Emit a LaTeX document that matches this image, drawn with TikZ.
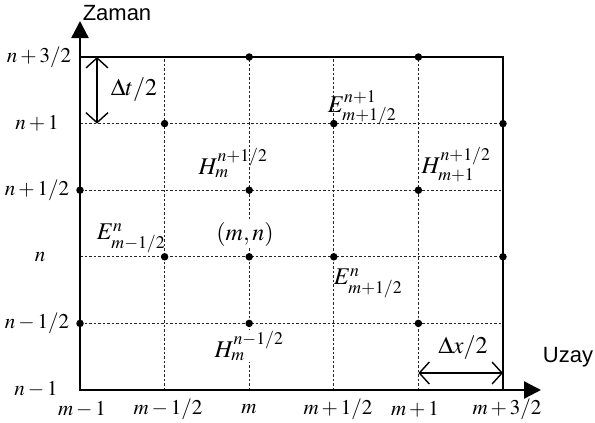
\documentclass[tikz,border=0pt]{standalone}
\usepackage{mathptmx}
\usepackage[no-math]{fontspec}
\newfontfamily\arialfont{Liberation Sans}
\usetikzlibrary{arrows.meta}
\begin{document}
\begin{tikzpicture}[x=1pt,y=-1pt,
  gridline/.style={dash pattern=on 2.5pt off 2pt, line width=0.8pt, black!85},
  axisline/.style={line width=2.4pt, line cap=rect},
  dot/.style={circle, fill=black, inner sep=0pt, minimum size=7.5pt},
  lab/.style={font=\fontsize{24}{27}\selectfont, inner sep=1pt},
  ticklab/.style={font=\fontsize{21}{24}\selectfont, inner sep=0pt},
  axislab/.style={font=\fontsize{22}{24}\selectfont\arialfont, inner sep=0pt},
  dimarrow/.style={line width=1.4pt, {Straight Barb[length=10pt,width=22pt]}-{Straight Barb[length=10pt,width=22pt]}}
]
\useasboundingbox (0,0) rectangle (595,423);
\foreach \i/\x in {0/80,1/164.6,2/249.2,3/333.8,4/418.4,5/503}
  \foreach \j/\y in {0/390,1/323.4,2/256.8,3/190.2,4/123.6,5/57}
    \coordinate (g\i\j) at (\x,\y);
% grid
\foreach \j in {1,...,4} \draw[gridline] (g0\j) -- (g5\j);
\foreach \i in {1,...,4} \draw[gridline] (g\i0) -- (g\i5);
\draw[line width=1.1pt] (g05) -- (g55) -- (g50);
% axes
\coordinate (ytip) at (80,21);
\coordinate (xtip) at (541,390);
\draw[axisline, -{Triangle[length=17pt,width=17pt]}] (g00) -- (ytip);
\draw[axisline, -{Triangle[length=17pt,width=17pt]}] (g00) -- (xtip);
\node[axislab] (zaman) at (117,13) {Zaman};
\node[axislab] (uzay) at (568,357) {Uzay};
% labels with white backgrounds
\node[lab, fill=white] (mn) at (245,234) {$(m,n)$};
\node[lab, fill=white] (hmlow) at (249,346) {$H^{n-1/2}_{m}$};
\node[lab] (e1) at (362,108) {$E^{n+1}_{m+1/2}$};
\node[lab] (h1) at (233,163) {$H^{n+1/2}_{m}$};
\node[lab] (h2) at (456,165) {$H^{n+1/2}_{m+1}$};
\node[lab] (e2) at (131,238) {$E^{n}_{m-1/2}$};
\node[lab] (e3) at (368,283) {$E^{n}_{m+1/2}$};
% dots
\foreach \p in {25,45,14,34,54,03,23,43,12,22,32,52,01,21,41}
  \node[dot] (d\p) at (g\p) {};
% dimension arrows
\coordinate (dta) at (97,57);
\coordinate (dtb) at (97,123.6);
\draw[dimarrow] (dta) -- (dtb);
\node[lab] (dt) at (134,90) {$\Delta t/2$};
\coordinate (dxa) at (418.4,373);
\coordinate (dxb) at (503,373);
\draw[dimarrow] (dxa) -- (dxb);
\node[lab] (dx) at (463,348) {$\Delta x/2$};
% tick labels
\node[ticklab] (t5) at (39,57) {$n+3/2$};
\node[ticklab] (t4) at (37,123.6) {$n+1$};
\node[ticklab] (t3) at (37,190.2) {$n+1/2$};
\node[ticklab] (t2) at (40,256.8) {$n$};
\node[ticklab] (t1) at (37,323.4) {$n-1/2$};
\node[ticklab] (t0) at (36,389) {$n-1$};
\node[ticklab] (m0) at (82,409) {$m-1$};
\node[ticklab] (m1) at (168,409) {$m-1/2$};
\node[ticklab] (m2) at (249,409) {$m$};
\node[ticklab] (m3) at (338,409) {$m+1/2$};
\node[ticklab] (m4) at (415,409) {$m+1$};
\node[ticklab] (m5) at (507,409) {$m+3/2$};
\end{tikzpicture}
\end{document}
